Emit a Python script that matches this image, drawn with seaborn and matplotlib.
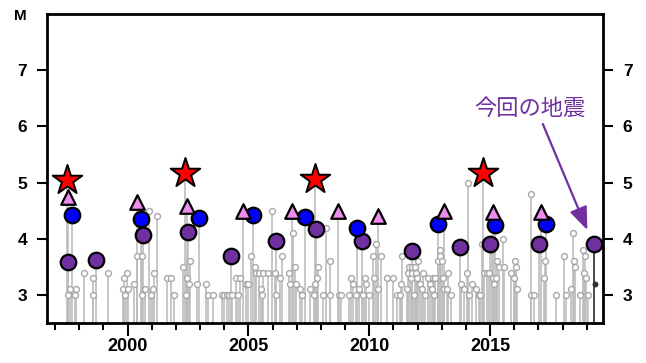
import matplotlib.pyplot as plt
import matplotlib.ticker as mticker
import pandas as pd
import seaborn as sns

# small events: decimal year, magnitude
small_years = [1997.55, 1997.62, 1997.83, 1997.86, 1998.18, 1998.56, 1998.58, 1999.18,
               1999.80, 1999.83, 1999.90, 1999.97, 2000.00, 2000.27, 2000.40, 2000.58,
               2000.60, 2000.72, 2000.90, 2000.95, 2001.06, 2001.10, 2001.23, 2001.61,
               2001.78, 2001.93, 2002.28, 2002.40, 2002.44, 2002.52, 2002.58, 2002.86,
               2003.24, 2003.34, 2003.52, 2003.90, 2004.00, 2004.10, 2004.20, 2004.30,
               2004.50, 2004.57, 2004.66, 2004.90, 2005.00, 2005.12, 2005.26, 2005.33,
               2005.45, 2005.53, 2005.56, 2005.60, 2005.80, 2005.99, 2006.08, 2006.16,
               2006.30, 2006.40, 2006.68, 2006.73, 2006.85, 2006.92, 2006.98, 2007.12,
               2007.20, 2007.56, 2007.70, 2007.74, 2007.84, 2007.88, 2008.10, 2008.20,
               2008.38, 2008.39, 2008.74, 2008.83, 2009.15, 2009.25, 2009.32, 2009.45,
               2009.59, 2009.74, 2009.84, 2009.87, 2009.98, 2010.17, 2010.21, 2010.27,
               2010.35, 2010.49, 2010.72, 2010.97, 2011.14, 2011.26, 2011.32, 2011.37,
               2011.55, 2011.62, 2011.65, 2011.73, 2011.75, 2011.79, 2011.85, 2011.90,
               2011.92, 2011.97, 2012.03, 2012.10, 2012.18, 2012.22, 2012.30, 2012.42,
               2012.52, 2012.61, 2012.65, 2012.68, 2012.72, 2012.86, 2012.92, 2012.94,
               2013.00, 2013.07, 2013.10, 2013.23, 2013.27, 2013.38, 2013.81, 2013.93,
               2014.06, 2014.10, 2014.13, 2014.27, 2014.41, 2014.53, 2014.58, 2014.68,
               2014.75, 2014.86, 2014.96, 2015.08, 2015.12, 2015.18, 2015.24, 2015.30,
               2015.35, 2015.54, 2015.58, 2015.86, 2015.98, 2016.05, 2016.08, 2016.12,
               2016.69, 2016.71, 2016.83, 2017.22, 2017.29, 2017.73, 2018.05, 2018.15,
               2018.37, 2018.43, 2018.47, 2018.53, 2018.74, 2018.86, 2018.89, 2018.94,
               2018.97, 2019.06]
small_mags = [3.0, 3.1, 3.0, 3.1, 3.4, 3.3, 3.0, 3.4,
              3.1, 3.3, 3.0, 3.4, 3.1, 3.2, 3.7, 3.7,
              3.0, 3.1, 4.5, 3.0, 3.1, 3.4, 4.4, 3.3,
              3.3, 3.0, 3.5, 3.0, 3.3, 3.2, 3.6, 3.2,
              3.2, 3.0, 3.0, 3.0, 3.0, 3.0, 3.0, 3.0,
              3.3, 3.0, 3.3, 3.2, 3.2, 3.7, 3.5, 3.4,
              3.4, 3.1, 3.0, 3.4, 3.4, 4.5, 3.4, 3.0,
              3.3, 3.7, 3.4, 3.2, 4.1, 3.5, 3.2, 3.1,
              3.0, 3.1, 3.0, 3.2, 3.3, 3.5, 3.0, 4.2,
              3.6, 3.0, 3.0, 3.0, 3.0, 3.3, 3.2, 3.0,
              3.1, 3.0, 3.3, 3.2, 3.0, 3.7, 3.3, 3.9,
              3.1, 3.7, 3.3, 3.3, 3.0, 3.0, 3.2, 3.7,
              3.1, 3.4, 3.5, 3.3, 3.4, 3.5, 3.0, 3.5,
              3.4, 3.3, 3.6, 3.2, 3.1, 3.4, 3.0, 3.3,
              3.2, 3.1, 3.3, 3.0, 3.3, 3.6, 3.8, 3.7,
              3.6, 3.3, 3.1, 3.1, 3.4, 3.0, 3.2, 3.1,
              3.4, 5.0, 3.0, 3.2, 3.1, 3.0, 3.0, 3.9,
              3.4, 3.4, 3.4, 3.8, 3.3, 3.2, 3.3, 3.6,
              3.5, 4.0, 3.5, 3.4, 3.3, 3.6, 3.5, 3.1,
              4.8, 3.0, 3.0, 3.3, 3.6, 3.0, 3.7, 3.0,
              3.1, 4.1, 3.6, 3.5, 3.0, 3.8, 3.4, 3.7,
              3.3, 3.0]

star_years = [1997.49, 2002.38, 2007.76, 2014.71]
star_mags = [5.05, 5.18, 5.07, 5.18]

tri_years = [1997.53, 2000.39, 2002.46, 2004.78, 2006.80, 2008.70, 2010.37, 2013.10,
             2015.13, 2017.12]
tri_mags = [4.75, 4.65, 4.58, 4.49, 4.49, 4.50, 4.40, 4.50, 4.47, 4.47]

blue_years = [1997.70, 2000.56, 2002.96, 2005.20, 2007.35, 2009.50, 2012.85, 2015.20,
              2017.30]
blue_mags = [4.43, 4.36, 4.37, 4.43, 4.38, 4.20, 4.27, 4.24, 4.27]

purple_years = [1997.53, 1998.69, 2000.64, 2002.50, 2004.28, 2006.14, 2007.80, 2009.70,
                2011.77, 2013.76, 2015.00, 2017.03]
purple_mags = [3.58, 3.62, 4.07, 4.13, 3.69, 3.97, 4.17, 3.96, 3.78, 3.85, 3.90, 3.90]

# the latest event and the small one right after it
current_year = [2019.30]
current_mag = [3.90]
after_year = [2019.33]
after_mag = [3.20]

year_ticks = [2000, 2005, 2010, 2015]
mag_ticks = [3, 4, 5, 6, 7]
label_text = "今回の地震"

purple = "#7030a0"

sns.set_style("ticks")
plt.rcParams["font.family"] = ["Liberation Sans", "DejaVu Sans"]
plt.rcParams["xtick.color"] = "black"
plt.rcParams["ytick.color"] = "black"
plt.rcParams["text.color"] = "black"

small = pd.DataFrame({"year": small_years, "mag": small_mags})
big = pd.concat([
    pd.DataFrame({"year": star_years, "mag": star_mags}),
    pd.DataFrame({"year": tri_years, "mag": tri_mags}),
    pd.DataFrame({"year": blue_years, "mag": blue_mags}),
    pd.DataFrame({"year": purple_years, "mag": purple_mags}),
])

fig = plt.figure(figsize=(6.46, 3.63), dpi=100)
ax = fig.add_axes([0.0723, 0.110, 0.8617, 0.851])
ymin = 2.5
ax.set_xlim(1996.65, 2019.69)
ax.set_ylim(ymin, 8.0)

# stems
ax.vlines(small["year"], ymin, small["mag"], color="#bdbdbd", linewidth=1.2, zorder=1)
ax.vlines(big["year"], ymin, big["mag"], color="#bdbdbd", linewidth=1.2, zorder=1)
ax.vlines(current_year, ymin, current_mag, color="#3a3a3a", linewidth=1.3, zorder=1)

sns.scatterplot(data=small, x="year", y="mag", ax=ax, marker="o", s=18,
                facecolor="white", edgecolor="#a8a8a8", linewidth=1.0, zorder=2)
sns.scatterplot(x=after_year, y=after_mag, ax=ax, marker="o", s=14,
                color="#303030", edgecolor="#303030", linewidth=0.5, zorder=2)

sns.scatterplot(x=purple_years + current_year, y=purple_mags + current_mag, ax=ax,
                marker="o", s=125, color=purple, edgecolor="black", linewidth=1.6, zorder=3)
sns.scatterplot(x=blue_years, y=blue_mags, ax=ax, marker="o", s=125, color="#0000ff",
                edgecolor="black", linewidth=1.6, zorder=4)
sns.scatterplot(x=tri_years, y=tri_mags, ax=ax, marker="^", s=110, color="#f08cf0",
                edgecolor="black", linewidth=1.6, zorder=5)
sns.scatterplot(x=star_years, y=star_mags, ax=ax, marker="*", s=500, color="#ff0000",
                edgecolor="black", linewidth=1.4, zorder=6)

# annotation for the latest event
ax.text(2016.66, 6.33, label_text, color=purple, fontsize=16, ha="center", va="center",
        family=["Noto Sans CJK JP", "DejaVu Sans"])
ax.annotate("", xy=(2019.07, 4.11), xytext=(2017.14, 6.09),
            arrowprops=dict(arrowstyle="-|>,head_length=1.4,head_width=0.55",
                            color=purple, linewidth=1.6))

# axes styling
for side in ["left", "right", "top", "bottom"]:
    ax.spines[side].set_linewidth(2)
    ax.spines[side].set_color("black")

ax.set_xticks(year_ticks)
ax.xaxis.set_minor_locator(mticker.MultipleLocator(1))
ax.set_yticks(mag_ticks)
ax.tick_params(axis="x", which="major", length=9, width=1.5, pad=2, labelsize=13)
ax.tick_params(axis="x", which="minor", length=5, width=1.5)
ax.tick_params(axis="y", which="major", length=7, width=1.5, pad=7, labelsize=12.5,
               right=True, labelright=True)
for lab in ax.get_xticklabels() + ax.get_yticklabels():
    lab.set_fontweight("bold")
for t in ax.yaxis.get_major_ticks():
    t.label2.set_fontweight("bold")
ax.set_xlabel("")
ax.set_ylabel("")
fig.text(20 / 646, 1 - 16 / 363, "M", fontsize=11, fontweight="bold", ha="center",
         va="center")

fig.savefig("out.png", dpi=100)
